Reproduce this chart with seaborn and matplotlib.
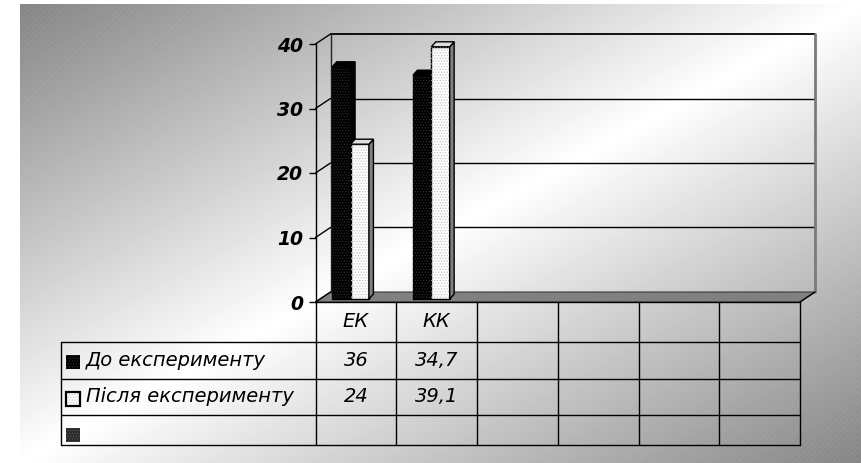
import numpy as np
import pandas as pd
import matplotlib
matplotlib.use("Agg")
import matplotlib.pyplot as plt
import matplotlib.transforms as mtransforms
from matplotlib.patches import Polygon, Rectangle
from matplotlib.lines import Line2D
import seaborn as sns

# ---- data -------------------------------------------------------------
categories = ["ЕК", "КК"]
n_columns = 6                      # category slots on the axis / table
series_names = ["До експерименту", "Після експерименту"]
before_values = [36, 34.7]
after_values = [24, 39.1]
y_ticks = [0, 10, 20, 30, 40]

sns.set_theme(style="white")
plt.rcParams["font.family"] = ["DejaVu Sans"]
plt.rcParams["hatch.linewidth"] = 0.6

W, H = 861, 463
fig = plt.figure(figsize=(W / 100, H / 100), dpi=100)
fig.patch.set_facecolor("white")

# ---- background layer in pixel coordinates ---------------------------
bg = fig.add_axes([0, 0, 1, 1], zorder=0)
bg.axis("off")
gx0, gy0 = 20, 4
xs = np.linspace(0, 1, W - gx0)
ys = np.linspace(0, 1, H - gy0)
XX, YY = np.meshgrid(xs, ys)
t = (XX + YY) / 2
shade = 1 - 0.48 * np.abs(2 * t - 1)
bg.imshow(shade, cmap="gray", vmin=0, vmax=1, extent=(gx0, W, H, gy0),
          origin="upper", aspect="auto", interpolation="bilinear", zorder=0)
bg.add_patch(Rectangle((gx0, gy0), W - gx0, H - gy0, fill=False, lw=0,
                       hatch="//////", edgecolor=(1, 1, 1, 0.08), zorder=0.5))
bg.set_xlim(0, W)
bg.set_ylim(H, 0)

# ---- front plane axes (value axis) ------------------------------------
FX0, FX1 = 315.5, 800
FY0, FY1 = 302, 44
ax = fig.add_axes([FX0 / W, 1 - FY0 / H, (FX1 - FX0) / W, (FY0 - FY1) / H], zorder=2)
ax.patch.set_alpha(0)

df = pd.DataFrame({
    "category": categories * 2,
    "series": [series_names[0]] * len(categories) + [series_names[1]] * len(categories),
    "value": before_values + after_values,
})
sns.barplot(data=df, x="category", y="value", hue="series", order=categories,
            hue_order=series_names, palette=["black", "white"], saturation=1,
            width=0.454, edgecolor="black", linewidth=1, legend=False, ax=ax)
bars = list(ax.patches)

ax.set_xlim(-0.5, n_columns - 0.5)
ax.set_ylim(y_ticks[0], y_ticks[-1])


def shift(dx, dy):
    return mtransforms.ScaledTranslation(dx / 100, dy / 100, fig.dpi_scale_trans)


# bars stand slightly behind the front plane
bar_tr = ax.transData + shift(-5.3, 3)
depth = np.array([4.5, 5.0])
hatch_cols = {"black": "#2a2a2a", "white": "#c4c4c4"}
side_cols = {"black": "black", "white": "#808080"}
top_cols = {"black": "black", "white": "#dedede"}

for k, p in enumerate(bars):
    hue_idx = k // len(categories)
    key = "black" if hue_idx == 0 else "white"
    z = 3 + hue_idx
    p.set_transform(bar_tr)
    p.set_zorder(z)
    p.set_clip_on(False)
    xl, w, h = p.get_x(), p.get_width(), p.get_height()
    ax.add_patch(Rectangle((xl, 0), w, h, transform=bar_tr, fill=False, lw=0,
                           hatch="......", edgecolor=hatch_cols[key],
                           zorder=z + 0.01, clip_on=False))
    bl = bar_tr.transform((xl, 0))
    br = bar_tr.transform((xl + w, 0))
    tl = bar_tr.transform((xl, h))
    tr = bar_tr.transform((xl + w, h))
    side = Polygon([br, br + depth, tr + depth, tr], closed=True,
                   transform=mtransforms.IdentityTransform(), facecolor=side_cols[key],
                   edgecolor="black", lw=1, zorder=z + 0.02, clip_on=False)
    top = Polygon([tl, tr, tr + depth, tl + depth], closed=True,
                  transform=mtransforms.IdentityTransform(), facecolor=top_cols[key],
                  edgecolor="black", lw=1, zorder=z + 0.02, clip_on=False)
    ax.add_artist(side)
    ax.add_artist(top)

ax.set_xlim(-0.5, n_columns - 0.5)
ax.set_ylim(y_ticks[0], y_ticks[-1])

ax.set_yticks(y_ticks)
ax.set_yticklabels([str(v) for v in y_ticks], fontsize=13.5, fontweight="bold",
                   fontstyle="italic", color="black")
ax.tick_params(axis="y", direction="out", length=5, width=1, pad=4,
               colors="black", left=True)
ax.tick_params(axis="x", bottom=False, labelbottom=False)
ax.set_xlabel("")
ax.set_ylabel("")
for s in ["top", "right"]:
    ax.spines[s].set_visible(False)
for s in ["left", "bottom"]:
    ax.spines[s].set_color("black")
    ax.spines[s].set_linewidth(1)


def to_px(x, v, dx=0.0, dy=0.0):
    X, Y = ax.transData.transform((x, v))
    return X + dx, H - Y - dy


BACK = (15, 10)
xa, xb = -0.5, n_columns - 0.5

# floor
floor = Polygon([to_px(xa, 0), to_px(xb, 0), to_px(xb, 0, *BACK), to_px(xa, 0, *BACK)],
                closed=True, facecolor="#808080", edgecolor="#3a3a3a", lw=0.8, zorder=1)
bg.add_patch(floor)


def seg(p, q, **kw):
    bg.add_line(Line2D([p[0], q[0]], [p[1], q[1]], **kw))


# back wall gridlines and edges, side-wall diagonals
for v in y_ticks[1:]:
    seg(to_px(xa, v, *BACK), to_px(xb, v, *BACK), color="black",
        lw=1.3 if v == y_ticks[-1] else 1, zorder=1.5)
seg(to_px(xa, 0, *BACK), to_px(xa, y_ticks[-1], *BACK), color="#222222", lw=1, zorder=1.5)
seg(to_px(xb, 0, *BACK), to_px(xb, y_ticks[-1], *BACK), color="#7a7a7a", lw=2, zorder=1.5)
for v in y_ticks:
    seg(to_px(xa, v), to_px(xa, v, *BACK), color="black", lw=1, zorder=1.5)
seg(to_px(xb, 0), to_px(xb, 0, *BACK), color="black", lw=1, zorder=1.5)

# ---- data table -------------------------------------------------------
col_edges = [to_px(i - 0.5, 0)[0] for i in range(n_columns + 1)]
table_top = to_px(xa, 0)[1]
row_lines = [342, 379, 415, 445]
left_edge = 61
for y in row_lines:
    seg((left_edge, y), (col_edges[-1], y), color="black", lw=1, zorder=2)
for x in col_edges:
    seg((x, table_top), (x, row_lines[-1]), color="black", lw=1, zorder=2)
seg((left_edge, row_lines[0]), (left_edge, row_lines[-1]), color="black", lw=1, zorder=2)

txt = dict(fontsize=14, fontstyle="italic", color="black", zorder=3)
for i, c in enumerate(categories):
    cx = (col_edges[i] + col_edges[i + 1]) / 2
    bg.text(cx, 327, c, ha="center", va="baseline", **txt)


def fmt(v):
    return f"{v:g}".replace(".", ",")


baselines = [366, 402]
for r, (name, vals) in enumerate(zip(series_names, [before_values, after_values])):
    bg.text(86, baselines[r], name, ha="left", va="baseline", **txt)
    for i, v in enumerate(vals):
        cx = (col_edges[i] + col_edges[i + 1]) / 2
        bg.text(cx, baselines[r], fmt(v), ha="center", va="baseline", **txt)

# legend keys
bg.add_patch(Rectangle((66, 355), 14, 14, facecolor="black", edgecolor="#2a2a2a",
                       hatch="......", lw=0, zorder=3))
bg.add_patch(Rectangle((66, 391.5), 14, 14, facecolor="white", edgecolor="#c4c4c4",
                       hatch="......", lw=0, zorder=3))
bg.add_patch(Rectangle((66, 391.5), 14, 14, fill=False, edgecolor="black", lw=1.6, zorder=3.1))
bg.add_patch(Rectangle((66, 427.5), 14, 14, facecolor="#2a2a2a", edgecolor="#555555",
                       hatch="......", lw=0, zorder=3))

fig.savefig("out.png", dpi=100)
